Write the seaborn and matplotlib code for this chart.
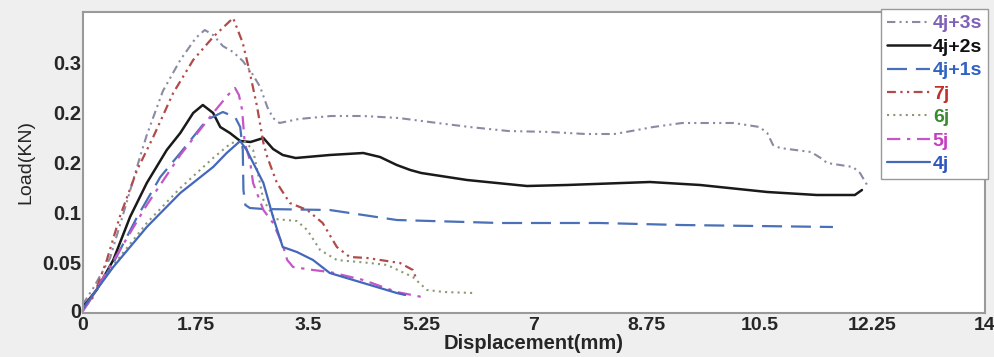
import matplotlib
matplotlib.use("Agg")
import matplotlib.pyplot as plt
import seaborn as sns
import pandas as pd
from matplotlib.transforms import ScaledTranslation

# ---- data ----
labels = ["4j+3s", "4j+2s", "4j+1s", "7j", "6j", "5j", "4j"]

x_4j3s = [0, 0.03, 0.16, 0.42, 0.62, 0.88, 0.99, 1.24, 1.51, 1.75, 1.89, 2.02, 2.17, 2.33, 2.48, 2.62,
          2.75, 2.86, 2.95, 3.05, 3.35, 3.85, 4.35, 4.9, 5.5, 6.0, 6.6, 7.25, 7.8, 8.25, 8.6, 8.85, 9.3,
          10.1, 10.5, 10.62, 10.71, 10.82, 11.3, 11.45, 11.55, 11.95, 12.06, 12.17]
y_4j3s = [0.008, 0.012, 0.025, 0.055, 0.098, 0.155, 0.178, 0.222, 0.253, 0.275, 0.283, 0.278, 0.267,
          0.261, 0.252, 0.24, 0.226, 0.206, 0.195, 0.19, 0.194, 0.197, 0.197, 0.195, 0.19, 0.186, 0.182,
          0.181, 0.179, 0.179, 0.183, 0.186, 0.19, 0.19, 0.186, 0.18, 0.168, 0.165, 0.161, 0.155, 0.15,
          0.146, 0.14, 0.128]

x_4j2s = [0, 0.21, 0.47, 0.73, 0.99, 1.3, 1.51, 1.71, 1.86, 2.02, 2.13, 2.28, 2.44, 2.6, 2.8, 2.95, 3.1,
          3.3, 3.83, 4.35, 4.61, 4.87, 5.08, 5.25, 5.96, 6.89, 7.51, 8.8, 9.58, 10.62, 11.39, 11.98, 12.09]
y_4j2s = [0.006, 0.023, 0.053, 0.096, 0.13, 0.163, 0.18, 0.2, 0.208, 0.2, 0.186, 0.18, 0.172, 0.171,
          0.175, 0.164, 0.158, 0.155, 0.158, 0.16, 0.156, 0.148, 0.143, 0.14, 0.133, 0.127, 0.128, 0.131,
          0.128, 0.121, 0.118, 0.118, 0.123]

x_4j1s = [0, 0.11, 0.47, 0.84, 1.2, 1.51, 1.92, 2.17, 2.36, 2.44, 2.48, 2.49, 2.52, 2.59, 2.8, 3.83,
          4.87, 6.47, 8.02, 9.27, 11.64]
y_4j1s = [0.003, 0.013, 0.05, 0.096, 0.136, 0.16, 0.193, 0.201, 0.196, 0.186, 0.163, 0.123, 0.108,
          0.105, 0.104, 0.103, 0.093, 0.09, 0.09, 0.088, 0.086]

x_7j = [0, 0.16, 0.37, 0.57, 0.84, 1.09, 1.4, 1.71, 2.02, 2.33, 2.48, 2.59, 2.7, 2.8, 2.86, 3.01, 3.21,
        3.48, 3.72, 3.94, 4.14, 4.41, 4.92, 5.12, 5.18]
y_7j = [0.004, 0.016, 0.053, 0.096, 0.143, 0.176, 0.22, 0.253, 0.276, 0.295, 0.27, 0.24, 0.207, 0.17,
        0.156, 0.13, 0.11, 0.103, 0.09, 0.066, 0.056, 0.055, 0.05, 0.043, 0.033]

x_6j = [0, 0.1, 0.47, 0.99, 1.51, 2.02, 2.3, 2.5, 2.64, 2.8, 2.98, 3.32, 3.48, 3.68, 3.94, 4.45, 4.72,
        5.12, 5.34, 5.6, 6.05]
y_6j = [0.003, 0.012, 0.048, 0.09, 0.125, 0.155, 0.17, 0.172, 0.163, 0.113, 0.094, 0.092, 0.083, 0.063,
        0.053, 0.05, 0.048, 0.036, 0.023, 0.021, 0.02]

x_5j = [0, 0.1, 0.47, 0.99, 1.51, 2.02, 2.25, 2.36, 2.42, 2.47, 2.51, 2.59, 2.64, 2.8, 2.95, 3.1, 3.17,
        3.26, 3.57, 3.83, 4.35, 4.87, 5.34]
y_5j = [0.002, 0.012, 0.052, 0.108, 0.158, 0.2, 0.218, 0.225, 0.218, 0.203, 0.17, 0.153, 0.13, 0.103,
        0.09, 0.068, 0.053, 0.046, 0.043, 0.041, 0.033, 0.021, 0.015]

x_4j = [0, 0.06, 0.47, 0.99, 1.51, 2.02, 2.23, 2.44, 2.54, 2.8, 2.95, 3.1, 3.32, 3.57, 3.83, 4.35, 4.87, 5.0]
y_4j = [0.004, 0.01, 0.046, 0.086, 0.12, 0.146, 0.16, 0.172, 0.163, 0.13, 0.096, 0.066, 0.061, 0.053,
        0.04, 0.03, 0.02, 0.018]

x_ticks = [0, 1.75, 3.5, 5.25, 7, 8.75, 10.5, 12.25, 14]
x_ticklabels = ["0", "1.75", "3.5", "5.25", "7", "8.75", "10.5", "12.25", "14"]
y_ticks = [0, 0.05, 0.1, 0.15, 0.2, 0.25]
y_ticklabels = ["0", "0.05", "0.1", "0.2", "0.2", "0.3"]

series_x = [x_4j3s, x_4j2s, x_4j1s, x_7j, x_6j, x_5j, x_4j]
series_y = [y_4j3s, y_4j2s, y_4j1s, y_7j, y_6j, y_5j, y_4j]

# ---- styles ----
line_colors = ["#8a8aa2", "#1a1a1a", "#4a70b8", "#b24a4a", "#8c9a74", "#c456c8", "#4466bb"]
text_colors = ["#7e62b8", "#111111", "#2f62c4", "#c0302a", "#3a8a30", "#c83cc0", "#2f55c0"]
line_styles = [(0, (4, 2, 1, 2, 1, 2)), "-", (0, (9, 4)), (0, (4, 2, 1, 2, 1, 2)),
               (0, (1, 2)), (0, (6, 3, 1.5, 3)), "-"]
line_widths = [1.5, 1.8, 1.6, 1.6, 1.5, 1.6, 1.6]

sns.set_style("white")
plt.rcParams["font.family"] = ["Liberation Sans", "DejaVu Sans"]

fig = plt.figure(figsize=(9.94, 3.57), dpi=100, facecolor="#efefef")
ax = fig.add_axes([83 / 994, 44 / 357, 902 / 994, 301 / 357])
ax.set_facecolor("white")

for lab, xs, ys, c, ls, lw in zip(labels, series_x, series_y, line_colors, line_styles, line_widths):
    df = pd.DataFrame({"x": xs, "y": ys})
    sns.lineplot(data=df, x="x", y="y", ax=ax, color=c, linestyle=ls, linewidth=lw,
                 sort=False, estimator=None, label=lab)

ax.set_xlim(0, 14)
ax.set_ylim(0, 0.301)
ax.set_xticks(x_ticks)
ax.set_xticklabels(x_ticklabels, fontsize=14, fontweight="bold")
ax.set_yticks(y_ticks)
ax.set_yticklabels(y_ticklabels, fontsize=14.5, fontweight="bold")
ax.tick_params(direction="in", length=3, width=1, color="#999999")
ax.tick_params(axis="y", pad=1)
ax.tick_params(axis="x", pad=3)
# nudge the y "0" label up a little, as in the reference
ax.get_yticklabels()[0].set_transform(
    ax.get_yticklabels()[0].get_transform() + ScaledTranslation(0, 3 / 100, fig.dpi_scale_trans))
for s in ax.spines.values():
    s.set_color("#9a9a9a")
    s.set_linewidth(1.5)

ax.set_xlabel("Displacement(mm)", fontsize=14.5, fontweight="bold", labelpad=0)
ax.set_ylabel("Load(KN)", fontsize=14, labelpad=6)

leg = ax.legend(loc="upper right", bbox_to_anchor=(988 / 994, 1 - 9 / 357),
                bbox_transform=fig.transFigure, fancybox=False, framealpha=1,
                edgecolor="#999999", prop={"weight": "bold", "size": 14},
                handlelength=2.2, handletextpad=0.15, labelspacing=0.3,
                borderpad=0.3, borderaxespad=0)
for t, c in zip(leg.get_texts(), text_colors):
    t.set_color(c)

fig.savefig("out.png", dpi=100, facecolor=fig.get_facecolor())
